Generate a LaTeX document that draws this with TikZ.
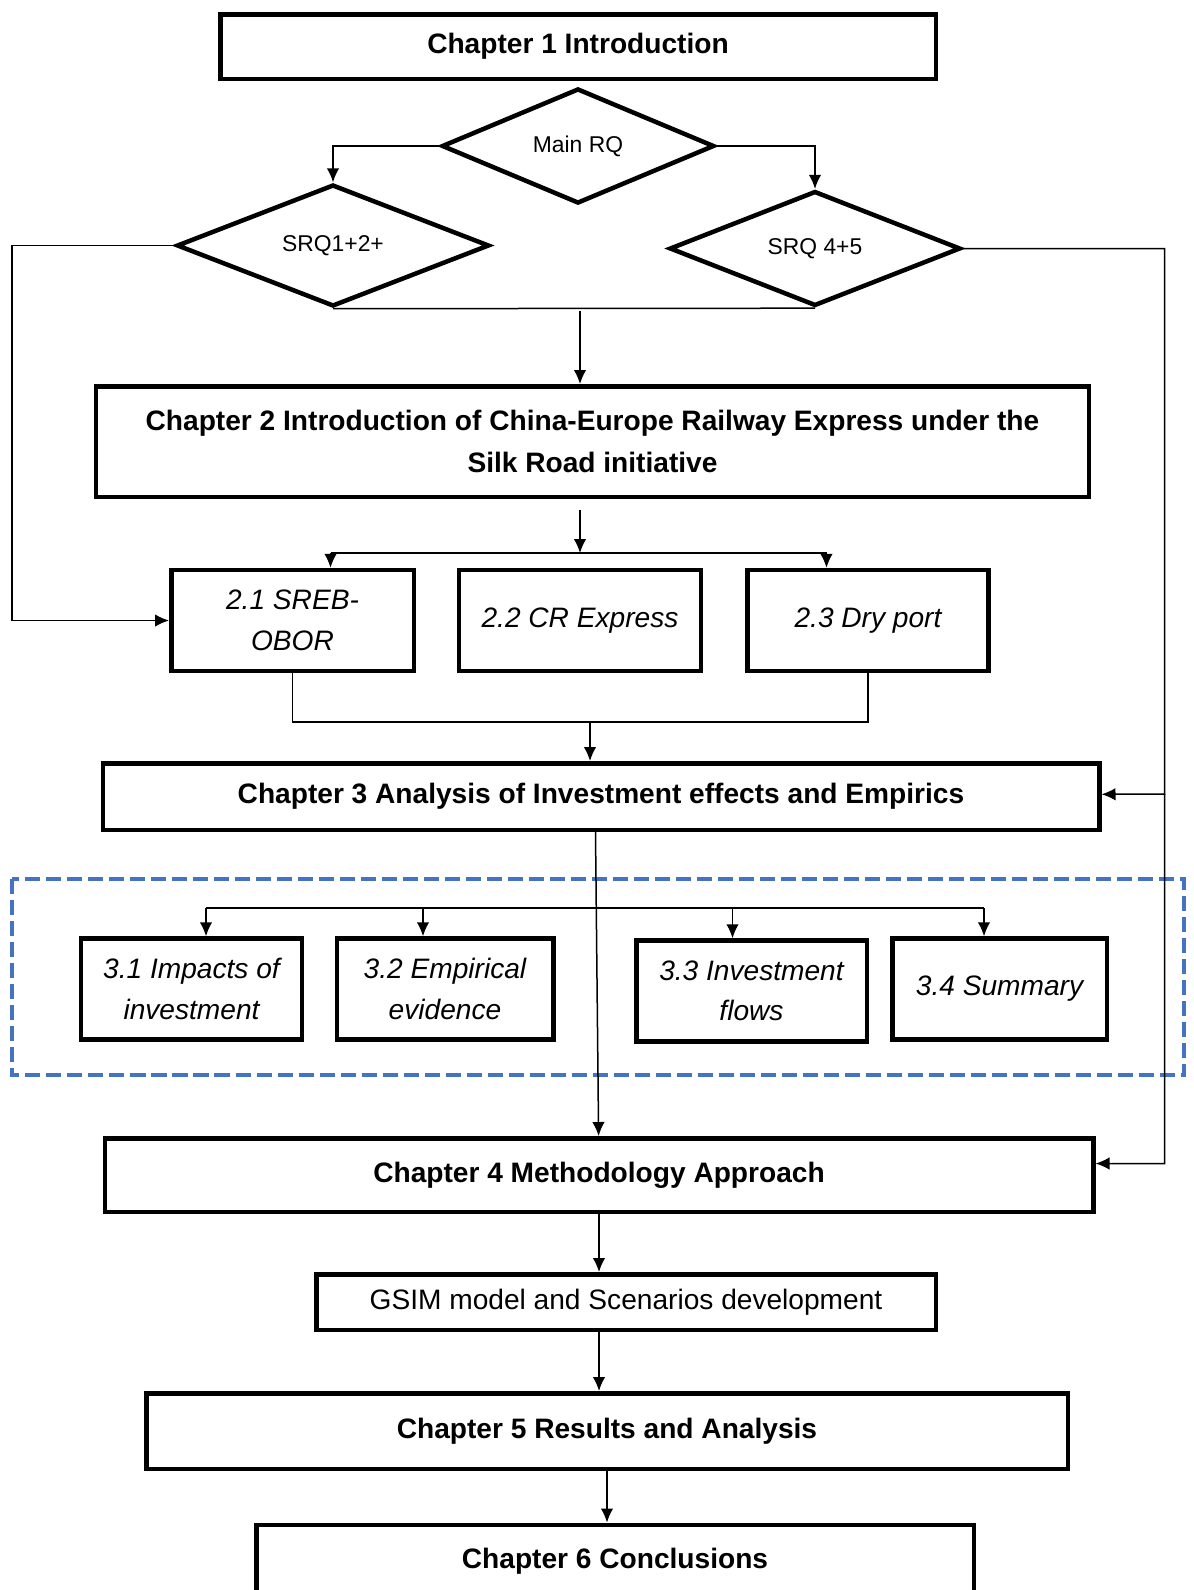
\documentclass[tikz,border=0pt]{standalone}
\usepackage{fontspec}
\setmainfont{Liberation Sans}
\usepackage{tikz}
\usetikzlibrary{shapes.geometric}
\usetikzlibrary{arrows.meta}
\usepackage{xcolor}
\definecolor{groupblue}{RGB}{68,114,196}
\tikzset{
chapter/.style = {rectangle, draw, line width=0.09cm, align=center, font=\bfseries\fontsize{16}{24}\selectfont, inner sep=0pt},
plainbox/.style = {rectangle, draw, line width=0.09cm, align=center, font=\fontsize{16}{24}\selectfont, inner sep=0pt},
section/.style = {rectangle, draw, line width=0.09cm, align=center, font=\itshape\fontsize{16}{23}\selectfont, minimum height=2.02cm, inner sep=0pt},
question/.style = {diamond, draw, line width=0.09cm, font=\fontsize{13}{15}\selectfont, inner sep=0pt},
line/.style = {draw, line width=0.03cm, -{Latex[length=0.28cm,width=0.25cm]}},
link/.style = {draw, line width=0.03cm},
coord/.style = {coordinate},
group/.style = {draw=groupblue, line width=0.08cm, dash pattern=on 0.3cm off 0.12cm}
}

\begin{document}
\begin{tikzpicture}[node distance = 3cm, auto]
    \useasboundingbox (0,0) rectangle (23.88,-31.8);

    % chapter 1 and research questions
    \node [chapter, minimum width=14.31cm, minimum height=1.29cm] (ch1) at (11.56,-0.93) {Chapter 1 Introduction};
    \node [question, below of=ch1, node distance=1.99cm, minimum width=5.45cm, minimum height=2.3cm] (mainrq) {Main RQ};
    \node [question, below of=mainrq, node distance=1.99cm, xshift=-4.9cm, minimum width=6.25cm, minimum height=2.34cm] (srq1) {SRQ1+2+};
    \node [question, below of=mainrq, node distance=2.05cm, xshift=4.74cm, minimum width=5.82cm, minimum height=2.14cm] (srq4) {SRQ 4+5};
    \node [coord, below of=mainrq, node distance=3.3cm, xshift=0.04cm] (c1) {};

    % chapter 2
    \node [chapter, below of=mainrq, node distance=5.91cm, xshift=0.29cm, minimum width=19.85cm, minimum height=2.21cm] (ch2) {Chapter 2 Introduction of China-Europe Railway Express under the\\Silk Road initiative};
    \node [coord, below of=ch2, node distance=2.23cm, xshift=-0.25cm] (c5) {};
    \node [coord, left of=c5, node distance=4.99cm] (c6) {};
    \node [coord, right of=c5, node distance=4.93cm] (c7) {};
    \node [section, below of=ch2, node distance=3.58cm, xshift=-6.0cm, minimum width=4.85cm] (s21) {2.1 SREB-\\OBOR};
    \node [section, right of=s21, node distance=5.75cm, minimum width=4.84cm] (s22) {2.2 CR Express};
    \node [section, right of=s22, node distance=5.76cm, minimum width=4.82cm] (s23) {2.3 Dry port};
    \node [coord, left of=s21, node distance=5.61cm] (c2) {};
    \node [coord, below of=s22, node distance=2.03cm, xshift=0.2cm] (c8) {};

    % chapter 3
    \node [chapter, below of=ch2, node distance=7.1cm, xshift=0.17cm, minimum width=19.93cm, minimum height=1.33cm] (ch3) {Chapter 3 Analysis of Investment effects and Empirics};
    \node [coord, right of=ch3, node distance=11.27cm, yshift=0.05cm] (c3) {};
    \draw [group] (0.24,-17.57) rectangle (23.68,-21.5);
    \node [section, below of=ch3, node distance=3.85cm, xshift=-8.19cm, minimum width=4.41cm] (s31) {3.1 Impacts of\\investment};
    \node [section, right of=s31, node distance=5.07cm, minimum width=4.33cm] (s32) {3.2 Empirical\\evidence};
    \node [section, right of=s32, node distance=6.13cm, yshift=-0.04cm, minimum width=4.61cm] (s33) {3.3 Investment\\flows};
    \node [section, right of=s33, node distance=4.96cm, yshift=0.04cm, minimum width=4.29cm] (s34) {3.4 Summary};
    \node [coord, above of=s31, node distance=1.62cm, xshift=0.29cm] (t1) {};
    \node [coord, right of=t1, node distance=4.34cm] (t2) {};
    \node [coord, right of=t2, node distance=6.19cm] (t3) {};
    \node [coord, right of=t3, node distance=5.03cm] (t4) {};

    % chapters 4 to 6
    \node [chapter, below of=ch3, node distance=7.57cm, xshift=-0.04cm, minimum width=19.77cm, minimum height=1.47cm] (ch4) {Chapter 4 Methodology Approach};
    \node [coord, right of=ch4, node distance=11.31cm, yshift=0.23cm] (c4) {};
    \node [plainbox, below of=ch4, node distance=2.54cm, xshift=0.54cm, minimum width=12.39cm, minimum height=1.11cm] (gsim) {GSIM model and Scenarios development};
    \node [chapter, below of=gsim, node distance=2.58cm, xshift=-0.38cm, minimum width=18.43cm, minimum height=1.51cm] (ch5) {Chapter 5 Results and Analysis};
    \node [chapter, below of=ch5, node distance=2.6cm, xshift=0.16cm, minimum width=14.35cm, minimum height=1.45cm] (ch6) {Chapter 6 Conclusions};

    \path [line] (mainrq) -| (srq1);
    \path [line] (mainrq) -| (srq4);
    \path [link] (srq1.south) -- (srq4.south);
    \path [line] (c1) -- (c1 |- ch2.north);
    \path [line] (srq1) -| (c2) -- (s21);
    \path [line] (srq4) -| (c3) -- (ch3);
    \path [line] (c3) -- (c4) -- (c4 -| ch4.east);
    \path [line, shorten <=0.22cm] (ch2.south -| c5) -- (c5);
    \path [link] (c6) -- (c7);
    \path [line] (c6) -- (c6 |- s21.north);
    \path [line] (c7) -- (c7 |- s23.north);
    \path [link] (s21) |- (c8) -| (s23);
    \path [line] (c8) -- (c8 |- ch3.north);
    \path [line] ([xshift=-0.11cm]ch3.south) -- (ch4);
    \path [link] (t1) -- (t4);
    \foreach \t/\s in {t1/s31,t2/s32,t3/s33,t4/s34}
        \path [line] (\t) -- (\t |- \s.north);
    \path [line] (ch4.south) -- (ch4.south |- gsim.north);
    \path [line] (gsim.south -| ch4.south) -- (ch5.north -| ch4.south);
    \path [line] (ch5.south) -- (ch5.south |- ch6.north);
\end{tikzpicture}
\end{document}
